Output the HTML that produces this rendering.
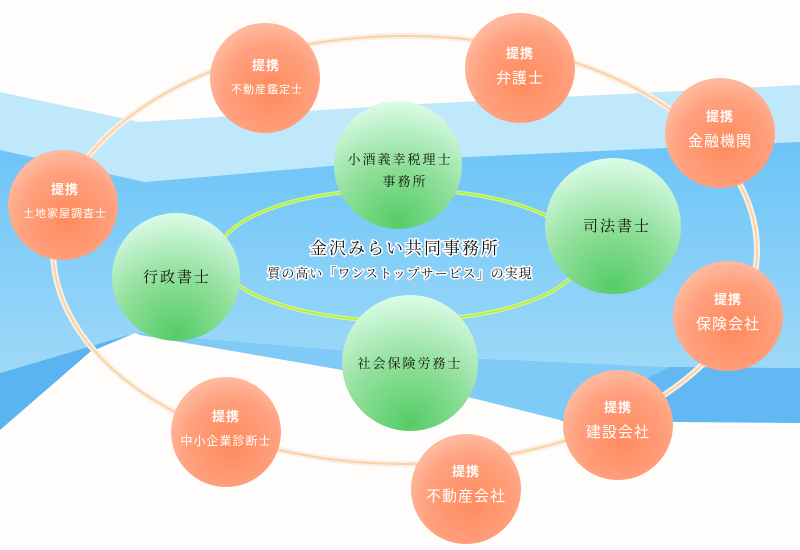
<!DOCTYPE html>
<html><head><meta charset="utf-8"><style>
html,body{margin:0;padding:0;background:#fffdfb}
svg{display:block}
text{font-family:"Liberation Sans","Noto Sans CJK JP",sans-serif;text-anchor:middle}
.s{font-family:"Liberation Serif","Noto Serif CJK SC",serif}
</style></head><body>
<svg width="800" height="550" viewBox="0 0 800 550" xmlns="http://www.w3.org/2000/svg">
<defs>
<radialGradient id="og" cx="0.55" cy="0.62" r="0.6">
<stop offset="0" stop-color="#ff8a5c"/><stop offset="0.7" stop-color="#ffa07e"/><stop offset="1" stop-color="#ffb89c"/>
</radialGradient>
<radialGradient id="gg" cx="0.5" cy="0.95" r="0.95">
<stop offset="0" stop-color="#55cc66"/><stop offset="0.5" stop-color="#92e09c"/><stop offset="1" stop-color="#dcfce8"/>
</radialGradient>
<linearGradient id="bl" x1="0" y1="0" x2="0" y2="1">
<stop offset="0" stop-color="#6cc4f8"/><stop offset="1" stop-color="#9ed9f8"/>
</linearGradient>
</defs>
<rect width="800" height="550" fill="#fffdfb"/>
<polygon points="0,92 140,122 400,105 800,85 800,145 400,160 145,182 0,150" fill="#c0e8fb"/>
<polygon points="0,150 145,182 400,160 800,142 800,368 670,367 400,355 135,333 0,373" fill="url(#bl)"/>
<polygon points="0,373 135,333 90,352 0,430" fill="#5ab4f0"/>
<polygon points="135,333 400,355 670,367 800,368 800,423 560,420 400,380 140,335" fill="#7fcaf6"/>
<polygon points="670,367 800,368 800,423 560,421" fill="#62b8f2"/>
<ellipse cx="405" cy="250" rx="352" ry="214" fill="none" stroke="#fdeee4" stroke-width="6"/>
<ellipse cx="405" cy="250" rx="352" ry="214" fill="none" stroke="#f8d4a4" stroke-width="2"/>
<ellipse cx="400" cy="255" rx="182" ry="66" fill="none" stroke="#d4f79a" stroke-width="4"/>
<ellipse cx="400" cy="255" rx="182" ry="66" fill="none" stroke="#b6f040" stroke-width="2"/>
<g class="s" fill="#111" style="paint-order:stroke" stroke="#fff" stroke-width="3">
<text class="s" x="405" y="254" font-size="17" letter-spacing="2">金沢みらい共同事務所</text>
<text class="s" x="400" y="278" font-size="13" letter-spacing="1">質の高い「ワンストップサービス」の実現</text>
</g>
<g fill="url(#gg)">
<circle cx="398" cy="165" r="64"/><circle cx="613" cy="226" r="68"/>
<circle cx="176" cy="277" r="64"/><circle cx="410" cy="363" r="68"/>
</g>
<g fill="#111" font-size="13" letter-spacing="2">
<text class="s" x="400" y="164">小酒義幸税理士</text>
<text class="s" x="405" y="186">事務所</text>
<text class="s" x="617" y="231" font-size="15">司法書士</text>
<text class="s" x="177" y="282" font-size="15">行政書士</text>
<text class="s" x="410" y="368">社会保険労務士</text>
</g>
<g fill="url(#og)">
<circle cx="265" cy="78" r="55"/><circle cx="520" cy="68" r="55"/>
<circle cx="720" cy="133" r="55"/><circle cx="63" cy="205" r="55"/>
<circle cx="728" cy="316" r="55"/><circle cx="618" cy="425" r="55"/>
<circle cx="466" cy="489" r="55"/><circle cx="226" cy="432" r="55"/>
</g>
<g fill="#fff" font-size="13" font-weight="bold" letter-spacing="1">
<text x="266" y="70">提携</text><text x="267" y="93" font-size="11" font-weight="normal">不動産鑑定士</text>
<text x="520" y="58">提携</text><text x="520" y="83" font-size="15" font-weight="normal">弁護士</text>
<text x="720" y="121">提携</text><text x="720" y="146" font-size="15" font-weight="normal">金融機関</text>
<text x="65" y="194">提携</text><text x="65" y="217" font-size="11" font-weight="normal">土地家屋調査士</text>
<text x="728" y="304">提携</text><text x="728" y="329" font-size="15" font-weight="normal">保険会社</text>
<text x="618" y="412">提携</text><text x="618" y="437" font-size="15" font-weight="normal">建設会社</text>
<text x="466" y="476">提携</text><text x="466" y="501" font-size="15" font-weight="normal">不動産会社</text>
<text x="226" y="421">提携</text><text x="226" y="445" font-size="12" font-weight="normal">中小企業診断士</text>
</g>
</svg>
</body></html>
